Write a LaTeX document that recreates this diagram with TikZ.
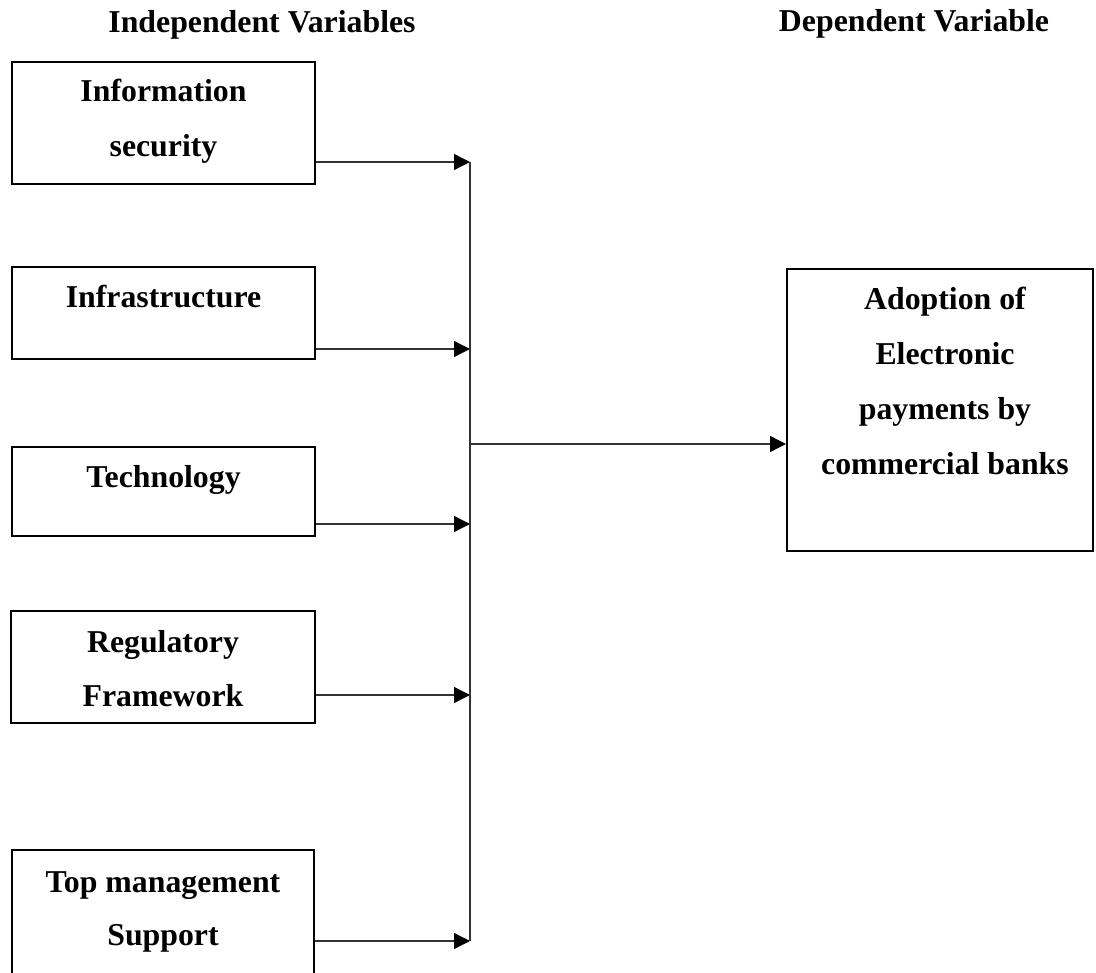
\documentclass[tikz,border=0pt]{standalone}
\usepackage{fontspec}
\setmainfont{Liberation Serif}
\usetikzlibrary{arrows.meta}
\begin{document}
\begin{tikzpicture}[x=1pt,y=-1pt,
  box/.style={draw=black, line width=2pt, minimum width=#1, inner sep=0pt},
  lbl/.style={anchor=base, inner sep=0pt, font=\fontsize{31.8}{55}\selectfont\bfseries},
  conn/.style={draw=black!80, line width=1.3pt},
  arr/.style={conn, -{Triangle[length=16pt,width=16pt,color=black,fill=black]}}]
\useasboundingbox (0,0) rectangle (1096,973);
% headings
\node[lbl] (hi) at (262,33) {Independent Variables};
\node[lbl] (hd) at (914,32) {Dependent Variable};
% boxes
\node[box=303pt, minimum height=122pt] (b1) at (163.5,123) {};
\node[box=303pt, minimum height=92pt] (b2) at (163.5,313) {};
\node[box=303pt, minimum height=89pt] (b3) at (163.5,491.5) {};
\node[box=304pt, minimum height=112pt] (b4) at (163,667) {};
\node[box=302pt, minimum height=160pt] (b5) at (163,930) {};
\node[box=306pt, minimum height=282pt] (out) at (940,410) {};
% texts
\node[lbl] (t1a) at (163.5,102) {Information};
\node[lbl] (t1b) at (163.5,157) {security};
\node[lbl] (t2) at (163.5,308) {Infrastructure};
\node[lbl] (t3) at (163.5,488) {Technology};
\node[lbl] (t4a) at (163,652) {Regulatory};
\node[lbl] (t4b) at (163,706) {Framework};
\node[lbl] (t5a) at (163,892) {Top management};
\node[lbl] (t5b) at (163,945) {Support};
\node[lbl] (o1) at (945,310) {Adoption of};
\node[lbl] (o2) at (945,365) {Electronic};
\node[lbl] (o3) at (945,420) {payments by};
\node[lbl] (o4) at (945,475) {commercial banks};
% junction coordinates
\coordinate (j1) at (470,162);
\coordinate (j2) at (470,349);
\coordinate (j3) at (470,524);
\coordinate (j4) at (470,695);
\coordinate (j5) at (470,941);
\coordinate (jm) at (470,444);
% connectors
\draw[arr] (b1.east |- j1) -- (j1);
\draw[arr] (b2.east |- j2) -- (j2);
\draw[arr] (b3.east |- j3) -- (j3);
\draw[arr] (b4.east |- j4) -- (j4);
\draw[arr] (b5.east |- j5) -- (j5);
\draw[conn] (j1) -- (j5);
\draw[arr] (jm) -- (out.west |- jm);
\end{tikzpicture}
\end{document}
